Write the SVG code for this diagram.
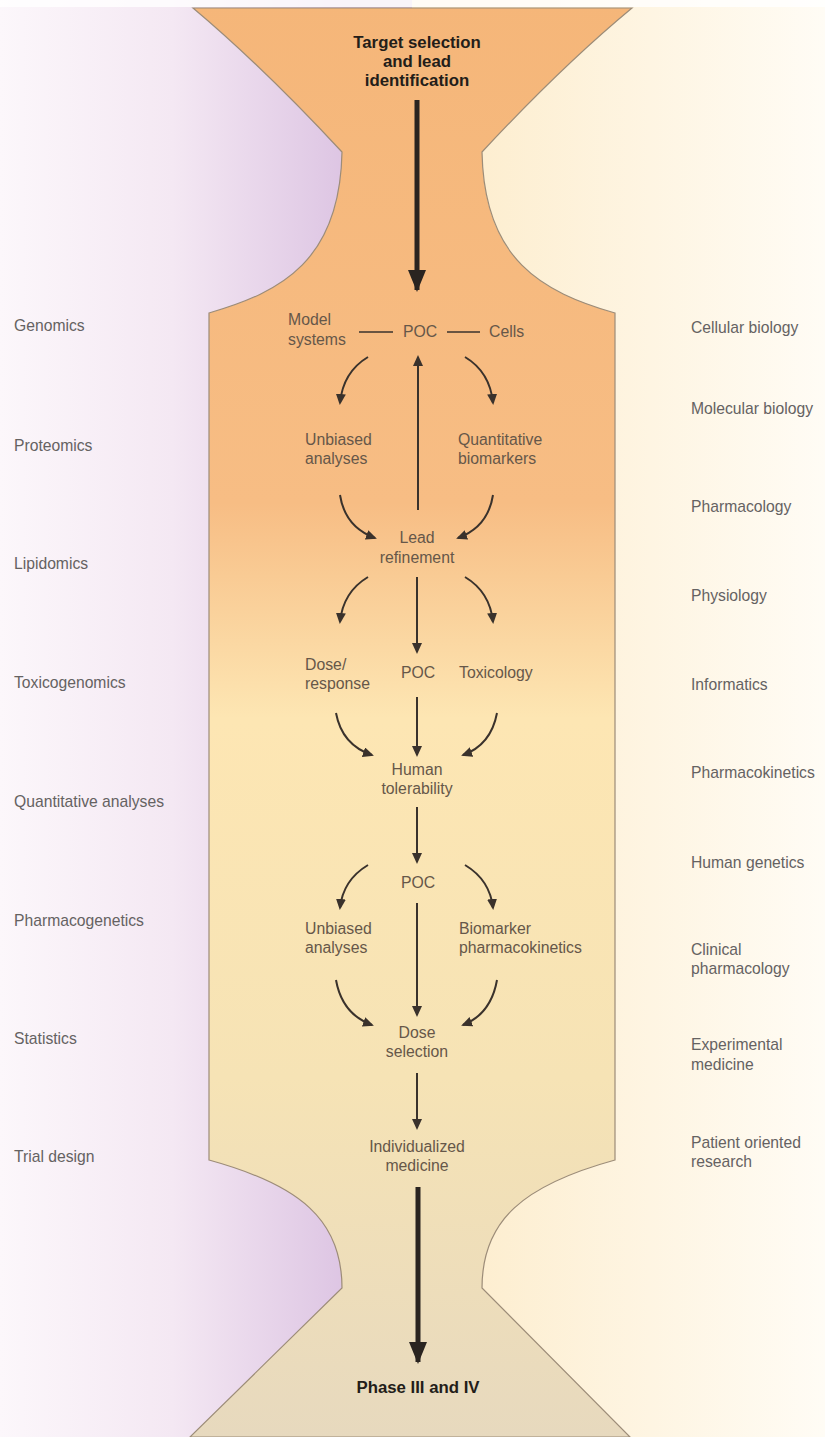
<svg xmlns="http://www.w3.org/2000/svg" width="825" height="1437" viewBox="0 0 825 1437">
  <style>
    .side { font-family: "Liberation Sans", Arial, sans-serif; font-size: 15.7px; fill: #656262; }
    .node { font-family: "Liberation Sans", Arial, sans-serif; font-size: 15.8px; fill: #665749; }
    .mid { text-anchor: middle; }
    .title { font-family: "Liberation Sans", Arial, sans-serif; font-size: 16.8px; font-weight: bold; fill: #231d19; text-anchor: middle; }
    .thin { fill: none; stroke: #3a322c; stroke-width: 2; marker-end: url(#ah); }
    .link { fill: none; stroke: #3a322c; stroke-width: 1.3; }
    .big { fill: none; stroke: #2a2420; stroke-width: 5; marker-end: url(#bigah); }
  </style>
  <defs>
    <linearGradient id="bgLeft" x1="0" y1="0" x2="345" y2="0" gradientUnits="userSpaceOnUse">
      <stop offset="0" stop-color="#fcf7fb"/>
      <stop offset="0.5" stop-color="#f4e8f3"/>
      <stop offset="1" stop-color="#ddc5e3"/>
    </linearGradient>
    <linearGradient id="bgRight" x1="480" y1="0" x2="825" y2="0" gradientUnits="userSpaceOnUse">
      <stop offset="0" stop-color="#fdeed0"/>
      <stop offset="1" stop-color="#fffcf5"/>
    </linearGradient>
    <linearGradient id="body" x1="0" y1="0" x2="0" y2="1437" gradientUnits="userSpaceOnUse">
      <stop offset="0" stop-color="#f5b679"/>
      <stop offset="0.35" stop-color="#f7bd84"/>
      <stop offset="0.5" stop-color="#fde6b3"/>
      <stop offset="0.75" stop-color="#f6e3b5"/>
      <stop offset="1" stop-color="#e7d9be"/>
    </linearGradient>
    <marker id="ah" markerUnits="userSpaceOnUse" markerWidth="11" markerHeight="10" viewBox="0 0 11 10" refX="9" refY="5" orient="auto">
      <path d="M0,0 L11,5 L0,10 Z" fill="#3a322c"/>
    </marker>
    <marker id="bigah" markerUnits="userSpaceOnUse" markerWidth="22" markerHeight="18" viewBox="0 0 22 18" refX="20" refY="9" orient="auto">
      <path d="M0,0 L22,9 L0,18 Z" fill="#2a2420"/>
    </marker>
  </defs>

  <g id="background">
    <rect x="0" y="0" width="413" height="1437" fill="url(#bgLeft)"/>
    <rect x="412" y="0" width="413" height="1437" fill="url(#bgRight)"/>
    <rect x="0" y="0" width="825" height="7" fill="#ffffff" fill-opacity="0.8"/>
  </g>

  <g id="hourglass">
    <path d="M193,8 Q262,66 342,152 C340,260 282,292 209,313 L209,1160 C300,1185 342,1220 342,1288 L190,1437 L630,1437 L482,1288 C482,1220 524,1185 615,1160 L615,313 C542,292 484,260 482,152 Q562,66 632,8 Z" fill="url(#body)" stroke="#9c8c78" stroke-width="1.2"/>
  </g>

  <g id="left-labels">
    <g id="l-genomics"><text class="side" x="14" y="331">Genomics</text></g>
    <g id="l-proteomics"><text class="side" x="14" y="451">Proteomics</text></g>
    <g id="l-lipidomics"><text class="side" x="14" y="569">Lipidomics</text></g>
    <g id="l-toxicogenomics"><text class="side" x="14" y="688">Toxicogenomics</text></g>
    <g id="l-quant"><text class="side" x="14" y="807">Quantitative analyses</text></g>
    <g id="l-pharmacogenetics"><text class="side" x="14" y="926">Pharmacogenetics</text></g>
    <g id="l-statistics"><text class="side" x="14" y="1044">Statistics</text></g>
    <g id="l-trial"><text class="side" x="14" y="1162">Trial design</text></g>
  </g>

  <g id="right-labels">
    <g id="r-cellular"><text class="side" x="691" y="333">Cellular biology</text></g>
    <g id="r-molecular"><text class="side" x="691" y="414">Molecular biology</text></g>
    <g id="r-pharmacology"><text class="side" x="691" y="512">Pharmacology</text></g>
    <g id="r-physiology"><text class="side" x="691" y="601">Physiology</text></g>
    <g id="r-informatics"><text class="side" x="691" y="690">Informatics</text></g>
    <g id="r-pk"><text class="side" x="691" y="778">Pharmacokinetics</text></g>
    <g id="r-human-genetics"><text class="side" x="691" y="868">Human genetics</text></g>
    <g id="r-clinical"><text class="side" x="691" y="955">Clinical</text><text class="side" x="691" y="974">pharmacology</text></g>
    <g id="r-experimental"><text class="side" x="691" y="1050">Experimental</text><text class="side" x="691" y="1070">medicine</text></g>
    <g id="r-patient"><text class="side" x="691" y="1148">Patient oriented</text><text class="side" x="691" y="1167">research</text></g>
  </g>

  <g id="n-target"><text class="title" x="417" y="48">Target selection</text><text class="title" x="417" y="67">and lead</text><text class="title" x="417" y="86">identification</text></g>
  <g id="n-model"><text class="node" x="288" y="325">Model</text><text class="node" x="288" y="345">systems</text></g>
  <g id="n-poc1"><text class="node mid" x="420" y="337">POC</text></g>
  <g id="n-cells"><text class="node" x="489" y="337">Cells</text></g>
  <g id="n-unbiased1"><text class="node" x="305" y="445">Unbiased</text><text class="node" x="305" y="464">analyses</text></g>
  <g id="n-quant"><text class="node" x="458" y="445">Quantitative</text><text class="node" x="458" y="464">biomarkers</text></g>
  <g id="n-lead"><text class="node mid" x="417" y="543">Lead</text><text class="node mid" x="417" y="563">refinement</text></g>
  <g id="n-dose-response"><text class="node" x="305" y="670">Dose/</text><text class="node" x="305" y="689">response</text></g>
  <g id="n-poc2"><text class="node mid" x="418" y="678">POC</text></g>
  <g id="n-toxicology"><text class="node" x="459" y="678">Toxicology</text></g>
  <g id="n-human"><text class="node mid" x="417" y="775">Human</text><text class="node mid" x="417" y="794">tolerability</text></g>
  <g id="n-poc3"><text class="node mid" x="418" y="888">POC</text></g>
  <g id="n-unbiased2"><text class="node" x="305" y="934">Unbiased</text><text class="node" x="305" y="953">analyses</text></g>
  <g id="n-biomarker"><text class="node" x="459" y="934">Biomarker</text><text class="node" x="459" y="953">pharmacokinetics</text></g>
  <g id="n-dose-selection"><text class="node mid" x="417" y="1038">Dose</text><text class="node mid" x="417" y="1057">selection</text></g>
  <g id="n-individualized"><text class="node mid" x="417" y="1152">Individualized</text><text class="node mid" x="417" y="1171">medicine</text></g>
  <g id="n-phase"><text class="title" x="418" y="1393">Phase III and IV</text></g>

  <g id="connectors">
    <line class="big" x1="417" y1="100" x2="417" y2="290"/>
    <line class="big" x1="418" y1="1187" x2="418" y2="1362"/>
    <line class="link" x1="359" y1="332" x2="393" y2="332"/>
    <line class="link" x1="447" y1="332" x2="480" y2="332"/>
    <line class="thin" x1="418" y1="510" x2="418" y2="357"/>
    <path class="thin" d="M368,357 Q343,372 340,403"/>
    <path class="thin" d="M465,357 Q490,372 493,403"/>
    <path class="thin" d="M340,495 Q345,527 375,538"/>
    <path class="thin" d="M493,495 Q488,527 458,538"/>
    <path class="thin" d="M368,577 Q343,592 340,622"/>
    <path class="thin" d="M465,577 Q490,592 493,622"/>
    <line class="thin" x1="417" y1="577" x2="417" y2="652"/>
    <path class="thin" d="M336,713 Q342,745 372,755"/>
    <path class="thin" d="M497,713 Q491,745 463,755"/>
    <line class="thin" x1="417" y1="697" x2="417" y2="755"/>
    <line class="thin" x1="417" y1="807" x2="417" y2="862"/>
    <path class="thin" d="M368,865 Q343,880 340,908"/>
    <path class="thin" d="M465,865 Q490,880 493,908"/>
    <line class="thin" x1="417" y1="903" x2="417" y2="1015"/>
    <path class="thin" d="M336,980 Q342,1014 372,1025"/>
    <path class="thin" d="M497,980 Q491,1014 463,1025"/>
    <line class="thin" x1="417" y1="1073" x2="417" y2="1128"/>
  </g>
</svg>
